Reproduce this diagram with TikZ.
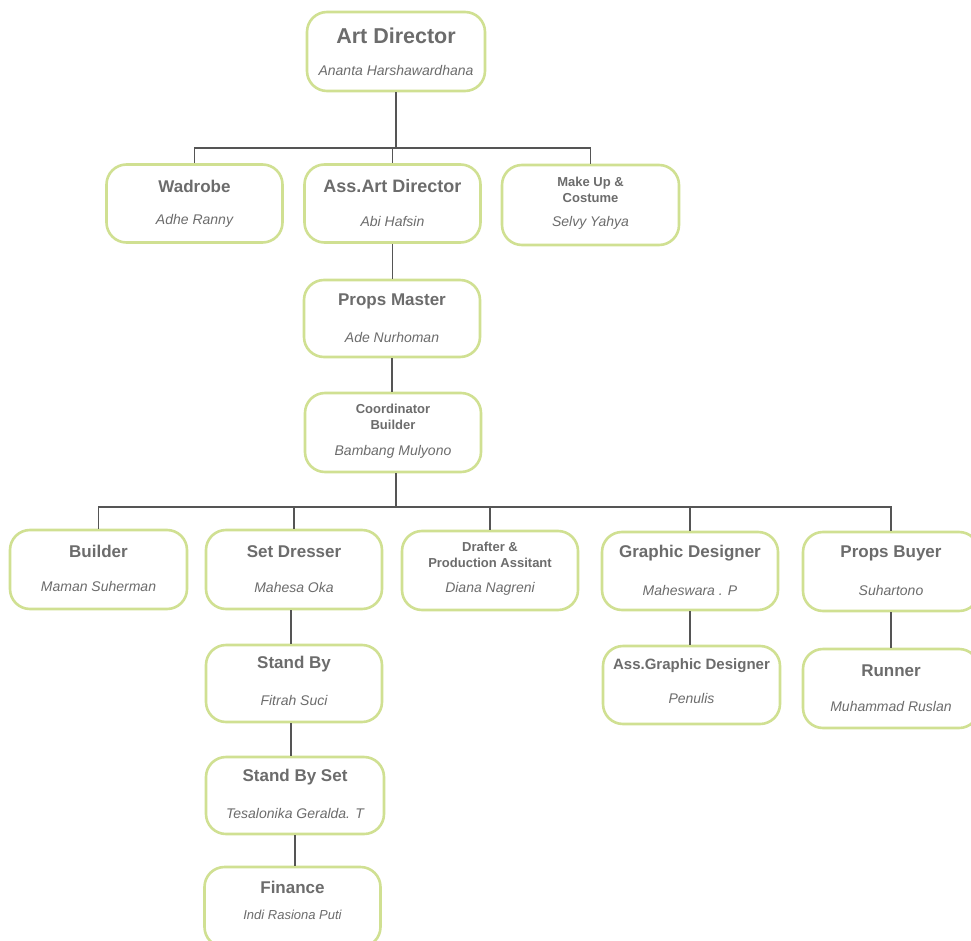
\documentclass[tikz,border=0pt]{standalone}
\usepackage{fontspec}
\setmainfont{Liberation Sans}
\definecolor{boxgreen}{RGB}{208,224,146}
\definecolor{txtgray}{RGB}{108,108,108}
\definecolor{linegray}{RGB}{85,85,85}
\begin{document}
\begin{tikzpicture}[x=1pt,y=-1pt,
  orgbox/.style={draw=boxgreen,line width=2.6pt,rounded corners=20pt,minimum width=176pt,minimum height=78pt,inner sep=0pt,fill=white},
  ttl/.style={text=txtgray,font=\bfseries\fontsize{17}{19}\selectfont,inner sep=0pt},
  bigttl/.style={text=txtgray,font=\bfseries\fontsize{21.5}{24}\selectfont,inner sep=0pt},
  smttl/.style={text=txtgray,font=\bfseries\fontsize{13}{15.5}\selectfont,inner sep=0pt,align=center},
  nm/.style={text=txtgray,font=\itshape\fontsize{14}{16}\selectfont,inner sep=0pt},
  conn/.style={draw=linegray,line width=1.8pt}]
\useasboundingbox (0,0) rectangle (971,941);
\clip (0,0) rectangle (971,941);
\fill[white] (0,0) rectangle (971,941);

\coordinate (j1) at (396,148);
\coordinate (j2) at (396,507);

% boxes
\node[orgbox,minimum width=178pt,minimum height=79pt] (ad) at (396,51.5) {};
\node[orgbox] (wad) at (194.5,203.5) {};
\node[orgbox] (aad) at (392.5,203.5) {};
\node[orgbox,minimum width=177pt,minimum height=80pt] (mu) at (590.5,205) {};
\node[orgbox,minimum height=77pt] (pm) at (392,318.5) {};
\node[orgbox,minimum height=79pt] (cb) at (393,432.5) {};
\node[orgbox,minimum width=177pt,minimum height=79pt] (bu) at (98.5,569.5) {};
\node[orgbox,minimum height=79pt] (sd) at (294,569.5) {};
\node[orgbox,minimum height=79pt] (dr) at (490,570.5) {};
\node[orgbox] (gd) at (690,571) {};
\node[orgbox,minimum height=79pt] (pb) at (891,571.5) {};
\node[orgbox,minimum height=77pt] (sb) at (294,683.5) {};
\node[orgbox,minimum width=178pt,minimum height=77pt] (sbs) at (295,795.5) {};
\node[orgbox,minimum height=80pt] (fin) at (292.5,907) {};
\node[orgbox,minimum width=177pt] (agd) at (691.5,685) {};
\node[orgbox,minimum height=79pt] (run) at (891,688.5) {};

% connectors
\draw[conn] (ad.south) -- (j1);
\draw[conn] (wad.north) |- (j1) -| (mu.north);
\draw[conn] (aad.north |- j1) -- (aad.north);
\draw[conn] (aad.south) -- (aad.south |- pm.north);
\draw[conn] (pm.south) -- (pm.south |- cb.north);
\draw[conn] (cb.south -| j2) -- (j2);
\draw[conn] (bu.north) |- (j2) -| (pb.north);
\draw[conn] (sd.north) |- (j2);
\draw[conn] (dr.north) |- (j2);
\draw[conn] (gd.north) |- (j2);
\draw[conn] ([xshift=-3pt]sd.south) -- ([xshift=-3pt]sd.south |- sb.north);
\draw[conn] ([xshift=-3pt]sb.south) -- ([xshift=-3pt]sb.south |- sbs.north);
\draw[conn] (sbs.south) -- (sbs.south |- fin.north);
\draw[conn] (gd.south) -- (gd.south |- agd.north);
\draw[conn] (pb.south) -- (pb.south |- run.north);

% texts
\node[bigttl] at (396,36) {Art Director};
\node[nm] at (396,71) {Ananta Harshawardhana};
\node[ttl] at (194.5,186) {Wadrobe};
\node[nm] at (194.5,221) {Adhe Ranny};
\node[ttl,font=\bfseries\fontsize{18}{20}\selectfont] at (392.5,186) {Ass.Art Director};
\node[nm] at (392.5,221) {Abi Hafsin};
\node[smttl] at (590.5,190) {Make Up \&\\Costume};
\node[nm] at (590.5,223) {Selvy Yahya};
\node[ttl] at (392,301) {Props Master};
\node[nm] at (392,337) {Ade Nurhoman};
\node[smttl] at (393,417) {Coordinator\\Builder};
\node[nm] at (393,452) {Bambang Mulyono};
\node[ttl] at (98.5,551) {Builder};
\node[nm] at (98.5,586) {Maman Suherman};
\node[ttl] at (294,552) {Set Dresser};
\node[nm] at (294,587) {Mahesa Oka};
\node[smttl] at (490,555) {Drafter \&\\Production Assitant};
\node[nm] at (490,589) {Diana Nagreni};
\node[ttl] at (690,553) {Graphic Designer};
\node[nm] at (690,590) {Maheswara . P};
\node[ttl] at (891,553) {Props Buyer};
\node[nm] at (891,590) {Suhartono};
\node[ttl] at (294,664) {Stand By};
\node[nm] at (294,700) {Fitrah Suci};
\node[ttl] at (295,777) {Stand By Set};
\node[nm] at (295,813) {Tesalonika Geralda. T};
\node[ttl] at (292.5,887) {Finance};
\node[nm,font=\itshape\fontsize{13}{15}\selectfont] at (292.5,915) {Indi Rasiona Puti};
\node[ttl,font=\bfseries\fontsize{15}{17}\selectfont] at (691.5,666) {Ass.Graphic Designer};
\node[nm] at (691.5,698) {Penulis};
\node[ttl] at (891,671) {Runner};
\node[nm] at (891,706) {Muhammad Ruslan};
\end{tikzpicture}
\end{document}
